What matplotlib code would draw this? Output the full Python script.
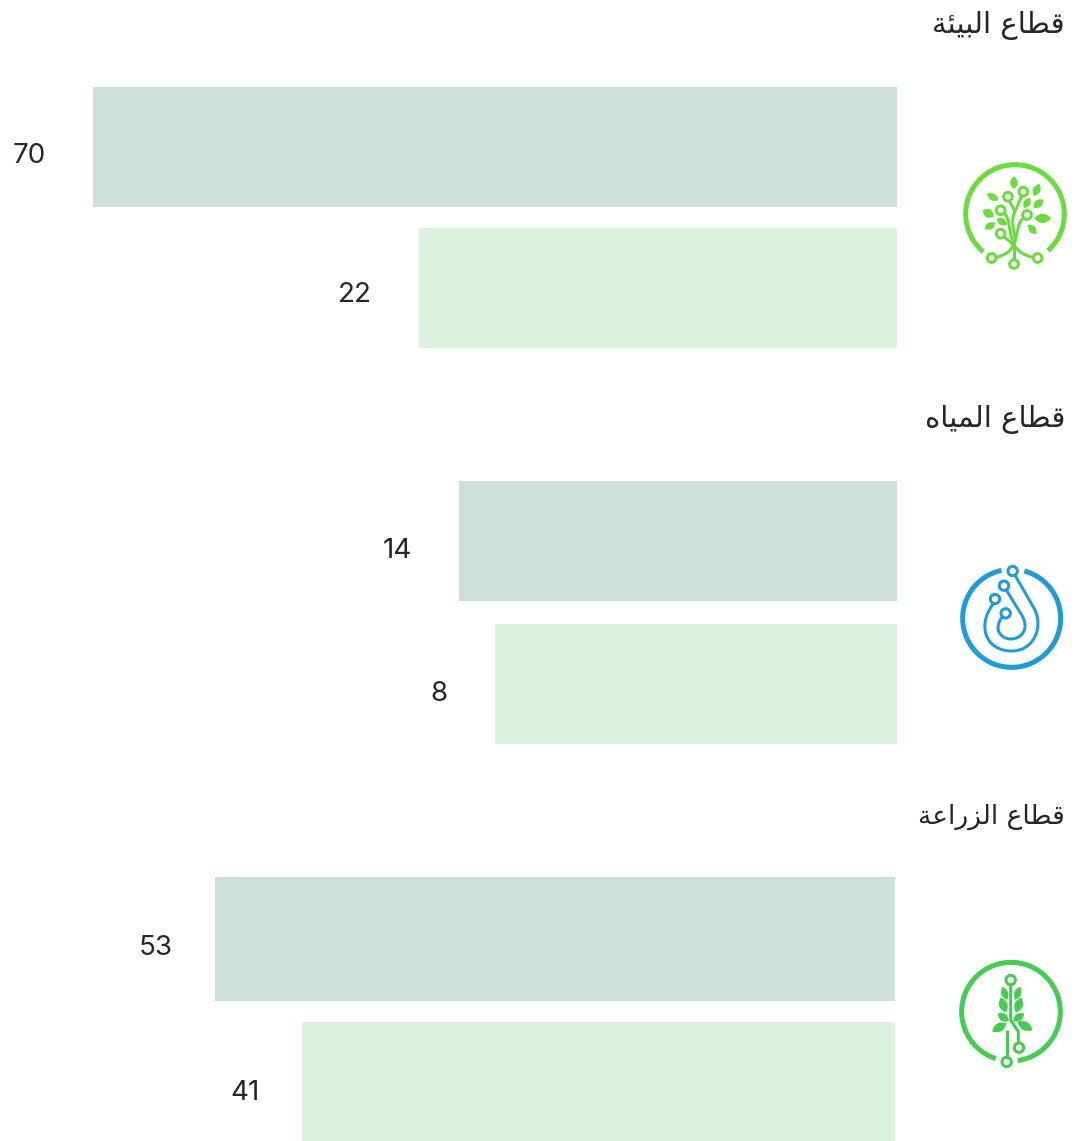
# -*- coding: utf-8 -*-
import numpy as np
import matplotlib
matplotlib.use('Agg')
import matplotlib.pyplot as plt
from matplotlib.patches import Circle, PathPatch, Arc
from matplotlib.path import Path
from matplotlib.scale import FuncScale

sectors = ['قطاع البيئة', 'قطاع المياه', 'قطاع الزراعة']
values_dark = [70, 14, 53]
values_light = [22, 8, 41]

# the bars in the picture are not linear in their values, this is the axis they use
scale_values = [0, 8, 14, 22, 41, 53, 70]
scale_pixels = [0, 402, 438, 478, 593, 680, 804]

W, H = 1079, 1141
dark = '#ccdfda'
light = '#dbf3de'
text_color = '#262626'
digit_font = ['Inter', 'DejaVu Sans']

# presentation forms: isolated, final, initial, medial
forms = {
    'ق': (0xFED5, 0xFED6, 0xFED7, 0xFED8), 'ط': (0xFEC1, 0xFEC2, 0xFEC3, 0xFEC4),
    'ا': (0xFE8D, 0xFE8E), 'ع': (0xFEC9, 0xFECA, 0xFECB, 0xFECC),
    'ل': (0xFEDD, 0xFEDE, 0xFEDF, 0xFEE0), 'ب': (0xFE8F, 0xFE90, 0xFE91, 0xFE92),
    'ي': (0xFEF1, 0xFEF2, 0xFEF3, 0xFEF4), 'ئ': (0xFE89, 0xFE8A, 0xFE8B, 0xFE8C),
    'ة': (0xFE93, 0xFE94), 'م': (0xFEE1, 0xFEE2, 0xFEE3, 0xFEE4),
    'ه': (0xFEE9, 0xFEEA, 0xFEEB, 0xFEEC), 'ز': (0xFEAF, 0xFEB0), 'ر': (0xFEAD, 0xFEAE),
}


def shape(text):
    """matplotlib does not join or reorder arabic, so do it here"""
    out = []
    for word in text.split(' '):
        letters = []
        for i, c in enumerate(word):
            before = i > 0 and len(forms[word[i - 1]]) == 4
            after = i < len(word) - 1 and len(forms[c]) == 4
            k = {(False, False): 0, (True, False): 1, (False, True): 2, (True, True): 3}[(before, after)]
            letters.append(chr(forms[c][k]))
        out.append(''.join(letters))
    return ' '.join(out)[::-1]


def forward(v):
    return np.interp(v, scale_values, scale_pixels)


def inverse(p):
    return np.interp(p, scale_pixels, scale_values)


fig = plt.figure(figsize=(W / 100, H / 100), dpi=100)

# right edge, centre of both bars in px, bar heights in px, label shift down in px
groups = [
    (897, 147, 288, 120, 120, (9, 7)),
    (897, 541, 684, 120, 120, (10, 10)),
    (895, 939, 1081.5, 124, 119, (9, 12)),
]

for i, (right, y0, y1, h0, h1, shifts) in enumerate(groups):
    pitch = y1 - y0
    top = y0 - pitch / 2
    ax = fig.add_axes([(right - 804) / W, 1 - (top + 2 * pitch) / H, 804 / W, 2 * pitch / H])
    ax.set_xscale(FuncScale(ax.xaxis, (forward, inverse)))
    ax.barh([0], [values_dark[i]], height=h0 / pitch, color=dark)
    ax.barh([1], [values_light[i]], height=h1 / pitch, color=light)
    ax.set_xlim(70, 0)
    ax.set_ylim(1.5, -0.5)
    ax.axis('off')
    gap = 47 if i < 2 else 42
    for row, v in enumerate([values_dark[i], values_light[i]]):
        ax.annotate(str(v), (v, row), xytext=(-gap * 0.72, -shifts[row] * 0.72),
                    textcoords='offset points', ha='right', va='center',
                    fontsize=20, color=text_color, family=digit_font, annotation_clip=False)

# everything else sits on a pixel axes
pg = fig.add_axes([0, 0, 1, 1])
pg.set_xlim(0, W)
pg.set_ylim(H, 0)
pg.axis('off')
pg.patch.set_alpha(0)

title_y = [26, 419, 817]
title_size = [21, 21, 19]
for s, y, fs in zip(sectors, title_y, title_size):
    pg.text(1065, y, shape(s), ha='right', va='center', fontsize=fs,
            color=text_color, family='DejaVu Sans')


def Z(o):
    return lambda x, y: (o[0] + x / 3, o[1] + y / 3)


def ring(o, cx, cy, r, lw, color, a0, a1):
    c = Z(o)(cx, cy)
    pg.add_patch(Arc(c, 2 * r / 3, 2 * r / 3, theta1=a0, theta2=a1, lw=lw * 0.72, color=color))


def node(o, x, y, r, color):
    pg.add_patch(Circle(Z(o)(x, y), r / 3, fc='white', ec=color, lw=3 * 0.72, zorder=4))


def curve(o, pts, color, lw=3):
    # pts: start, then bezier control points as 6 numbers, or a single point for a line
    t = Z(o)
    verts = [t(*pts[0])]
    codes = [Path.MOVETO]
    for p in pts[1:]:
        if len(p) == 2:
            verts.append(t(*p))
            codes.append(Path.LINETO)
        else:
            verts += [t(p[0], p[1]), t(p[2], p[3]), t(p[4], p[5])]
            codes += [Path.CURVE4] * 3
    pg.add_patch(PathPatch(Path(verts, codes), fc='none', ec=color, lw=lw * 0.72, capstyle='butt', zorder=3))


def leaf(o, x, y, length, width, angle, color):
    a = np.radians(angle)
    d = np.array([np.cos(a), np.sin(a)]) * length / 2
    n = np.array([-np.sin(a), np.cos(a)]) * width
    c = np.array([x, y])
    t = Z(o)
    p = [c - d, c + n, c + d, c - n, c - d]
    verts = [t(*q) for q in p]
    codes = [Path.MOVETO, Path.CURVE3, Path.CURVE3, Path.CURVE3, Path.CURVE3]
    pg.add_patch(PathPatch(Path(verts, codes), fc=color, ec='none', zorder=3))


# tree icon
c1 = '#6bdb3d'
o1 = (940, 150)
ring(o1, 225, 192, 148, 5, c1, 130, 48 + 360)
for x, y in [(155, 324), (222, 342), (293, 324), (204, 140), (250, 125), (182, 181), (261, 195), (182, 251)]:
    node(o1, x, y, 13, c1)
curve(o1, [(222, 342), (222, 285)], c1)
curve(o1, [(168, 322), (195, 316, 210, 305, 222, 285)], c1)
curve(o1, [(280, 322), (250, 316, 235, 305, 222, 285)], c1)
curve(o1, [(193, 260), (200, 270, 215, 275, 222, 290)], c1)
curve(o1, [(222, 285), (235, 260, 205, 225, 225, 185), (245, 138)], c1)
curve(o1, [(208, 153), (225, 185)], c1)
curve(o1, [(193, 190), (210, 205, 205, 235, 218, 275)], c1)
curve(o1, [(250, 205), (232, 215, 235, 250, 222, 280)], c1)
for x, y, ln, wd, ang in [(222, 98, 38, 24, 90), (290, 120, 40, 24, 115), (158, 141, 40, 22, 30),
                          (261, 159, 36, 22, 120), (295, 161, 38, 24, 140), (145, 190, 38, 26, 30),
                          (186, 215, 36, 22, 30), (150, 228, 36, 22, 150), (308, 205, 52, 28, 0),
                          (277, 238, 38, 22, 50)]:
    leaf(o1, x, y, ln, wd, ang, c1)

# drop icon
c2 = '#1f9bd9'
o2 = (940, 555)
ring(o2, 215, 190, 147, 5, c2, 285, 258 + 360)
for x, y in [(218, 48), (192, 92), (165, 132), (197, 175)]:
    node(o2, x, y, 14, c2)
curve(o2, [(226, 62), (285, 165), (310, 220, 280, 288, 215, 288), (160, 288, 130, 250, 135, 205),
           (137, 180, 150, 160, 160, 146)], c2)
curve(o2, [(199, 105), (245, 180), (270, 220, 245, 252, 213, 252), (185, 252, 170, 230, 175, 210),
           (178, 198, 182, 190, 188, 186)], c2)

# plant icon
c3 = '#45cc52'
o3 = (940, 950)
ring(o3, 213, 185, 148, 5, c3, 108, 82 + 360)
for x, y in [(212, 90), (237, 293), (200, 336)]:
    node(o3, x, y, 14, c3)
curve(o3, [(212, 104), (212, 210), (235, 245), (235, 280)], c3)
curve(o3, [(200, 240), (200, 322)], c3)
for x, y, ln, wd, ang in [(194, 130, 42, 22, 70), (233, 130, 42, 22, 110), (190, 165, 48, 26, 70),
                          (236, 165, 48, 26, 110), (190, 202, 40, 24, 35), (236, 202, 40, 24, 145),
                          (178, 232, 50, 26, 150), (255, 228, 52, 26, 30)]:
    leaf(o3, x, y, ln, wd, ang, c3)

fig.savefig('out.png', dpi=100)
